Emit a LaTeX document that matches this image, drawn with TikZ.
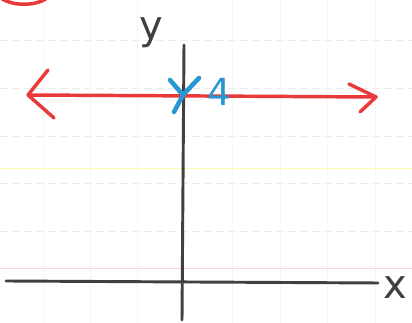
\documentclass[tikz,border=0pt]{standalone}
\usepackage{fontspec}
\setmainfont{DejaVu Sans}
\definecolor{penred}{RGB}{232,58,58}
\definecolor{penblue}{RGB}{40,150,210}
\begin{document}
\begin{tikzpicture}[x=0.75pt,y=-0.75pt,
  axis/.style={draw=black!75, line width=2.2pt, line cap=round},
  redline/.style={draw=penred, line width=2.6pt, line cap=round, line join=round},
  bluemark/.style={draw=penblue, line width=3.4pt, line cap=round},
  gridh/.style={draw=gray!15, line width=0.5pt, dash pattern=on 6pt off 3pt},
  gridv/.style={draw=gray!7, line width=0.5pt},
  lbl/.style={font=\fontsize{30}{30}\selectfont, inner sep=0pt}]
\useasboundingbox (0,0) rectangle (412,323);
\fill[white] (0,0) rectangle (412,323);
% notebook lines
\foreach \yy in {40,88,136,183,231} \draw[gridh] (0,\yy) -- (412,\yy);
\foreach \xx in {43,90,137,232,280,327,375} \draw[gridv] (\xx,0) -- (\xx,323);
\draw[yellow!30, line width=0.5pt] (0,168) -- (412,168);
\draw[magenta!18, line width=0.5pt] (0,268) -- (412,268);
% red arc top-left
\draw[penred, line width=2.6pt] (2,-1) .. controls (14,6) and (34,6) .. (46,-1);
% axes
\coordinate (ytop) at (184,45);
\coordinate (ybot) at (182,320);
\coordinate (xleft) at (6,281);
\coordinate (xright) at (378,283);
\draw[axis] (ybot) -- (ytop);
\draw[axis] (xleft) -- (xright);
% labels
\node[lbl, text=black!75] (ylab) at (151,33) {y};
\node[lbl, text=black!75] (xlab) at (395,288) {x};
% red line
\coordinate (rl) at (28,95);
\coordinate (rr) at (376,97);
\draw[redline] (rl) -- (rr);
\draw[redline] (48,70) -- (rl) -- (54,118);
\draw[redline] (349,84) -- (rr) -- (360,112);
% blue mark
\coordinate (ix) at (183,95);
\draw[bluemark] (170,80) -- (ix) -- (174,112);
\draw[bluemark] (199,78) -- (ix);
\node[lbl, text=penblue, font=\fontsize{28}{28}\selectfont] (four) at (219,92) {4};
\end{tikzpicture}
\end{document}
